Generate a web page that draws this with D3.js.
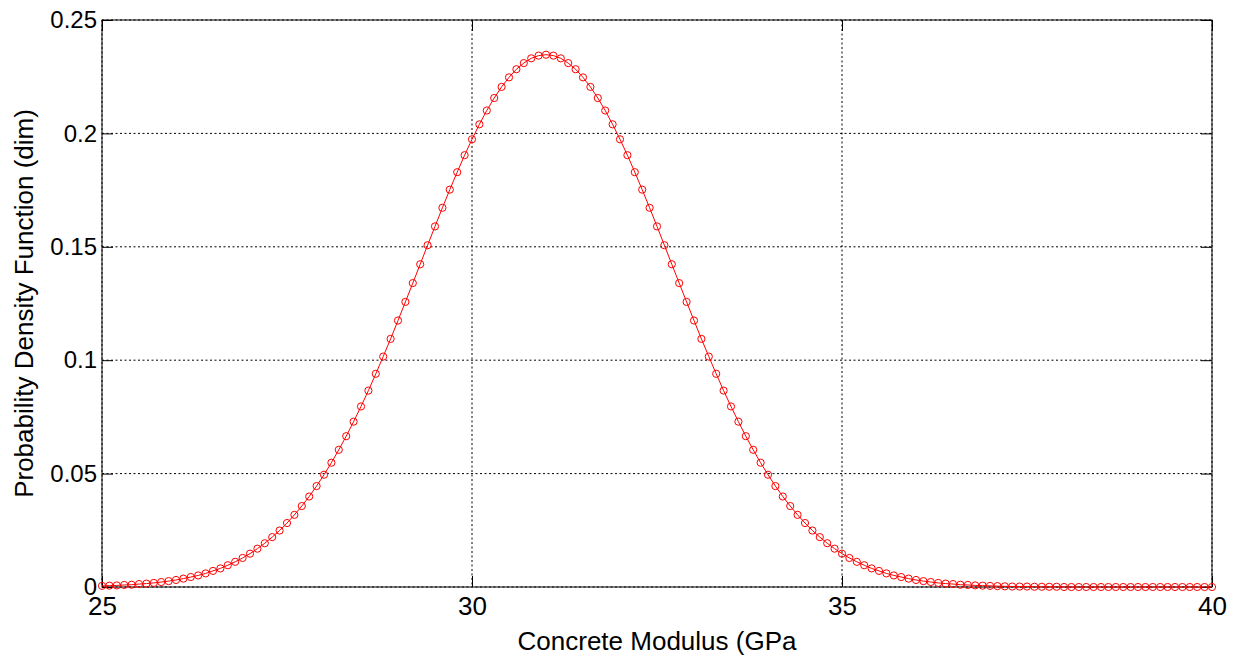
<!DOCTYPE html>
<html>
<head>
<meta charset="utf-8">
<script src="https://cdnjs.cloudflare.com/ajax/libs/d3/7.8.5/d3.min.js"></script>
<style>
  body { margin: 0; background: #fff; }
  svg { display: block; }
  .tick text { font-family: "Liberation Sans", Arial, Helvetica, sans-serif; fill: #000; }
  .label { font-family: "Liberation Sans", Arial, Helvetica, sans-serif; fill: #000; }
</style>
</head>
<body>
<div id="chart"></div>
<script>
// sample positions along the x axis (GPa)
var modulusGPa = [
  25.0, 25.1, 25.2, 25.3, 25.4, 25.5, 25.6, 25.7, 25.8, 25.9,
  26.0, 26.1, 26.2, 26.3, 26.4, 26.5, 26.6, 26.7, 26.8, 26.9,
  27.0, 27.1, 27.2, 27.3, 27.4, 27.5, 27.6, 27.7, 27.8, 27.9,
  28.0, 28.1, 28.2, 28.3, 28.4, 28.5, 28.6, 28.7, 28.8, 28.9,
  29.0, 29.1, 29.2, 29.3, 29.4, 29.5, 29.6, 29.7, 29.8, 29.9,
  30.0, 30.1, 30.2, 30.3, 30.4, 30.5, 30.6, 30.7, 30.8, 30.9,
  31.0, 31.1, 31.2, 31.3, 31.4, 31.5, 31.6, 31.7, 31.8, 31.9,
  32.0, 32.1, 32.2, 32.3, 32.4, 32.5, 32.6, 32.7, 32.8, 32.9,
  33.0, 33.1, 33.2, 33.3, 33.4, 33.5, 33.6, 33.7, 33.8, 33.9,
  34.0, 34.1, 34.2, 34.3, 34.4, 34.5, 34.6, 34.7, 34.8, 34.9,
  35.0, 35.1, 35.2, 35.3, 35.4, 35.5, 35.6, 35.7, 35.8, 35.9,
  36.0, 36.1, 36.2, 36.3, 36.4, 36.5, 36.6, 36.7, 36.8, 36.9,
  37.0, 37.1, 37.2, 37.3, 37.4, 37.5, 37.6, 37.7, 37.8, 37.9,
  38.0, 38.1, 38.2, 38.3, 38.4, 38.5, 38.6, 38.7, 38.8, 38.9,
  39.0, 39.1, 39.2, 39.3, 39.4, 39.5, 39.6, 39.7, 39.8, 39.9,
  40.0
];

// pdf value at each sample
var pdfValues = [
  0.0005, 0.0006, 0.0007, 0.0009, 0.0010, 0.0013, 0.0015, 0.0018, 0.0022, 0.0026,
  0.0031, 0.0037, 0.0044, 0.0051, 0.0060, 0.0071, 0.0082, 0.0096, 0.0111, 0.0128,
  0.0147, 0.0169, 0.0193, 0.0220, 0.0249, 0.0282, 0.0318, 0.0357, 0.0399, 0.0445,
  0.0495, 0.0548, 0.0605, 0.0665, 0.0729, 0.0796, 0.0866, 0.0940, 0.1016, 0.1094,
  0.1175, 0.1257, 0.1340, 0.1423, 0.1507, 0.1590, 0.1672, 0.1752, 0.1829, 0.1904,
  0.1974, 0.2040, 0.2101, 0.2156, 0.2205, 0.2247, 0.2283, 0.2310, 0.2331, 0.2343,
  0.2347, 0.2343, 0.2331, 0.2310, 0.2283, 0.2247, 0.2205, 0.2156, 0.2101, 0.2040,
  0.1974, 0.1904, 0.1829, 0.1752, 0.1672, 0.1590, 0.1507, 0.1423, 0.1340, 0.1257,
  0.1175, 0.1094, 0.1016, 0.0940, 0.0866, 0.0796, 0.0729, 0.0665, 0.0605, 0.0548,
  0.0495, 0.0445, 0.0399, 0.0357, 0.0318, 0.0282, 0.0249, 0.0220, 0.0193, 0.0169,
  0.0147, 0.0128, 0.0111, 0.0096, 0.0082, 0.0071, 0.0060, 0.0051, 0.0044, 0.0037,
  0.0031, 0.0026, 0.0022, 0.0018, 0.0015, 0.0013, 0.0010, 0.0009, 0.0007, 0.0006,
  0.0005, 0.0004, 0.0003, 0.0002, 0.0002, 0.0002, 0.0001, 0.0001, 0.0001, 0.0001,
  0, 0, 0, 0, 0, 0, 0, 0, 0, 0,
  0, 0, 0, 0, 0, 0, 0, 0, 0, 0,
  0
];

var xTicks = [25, 30, 35, 40];
var yTicks = [0, 0.05, 0.1, 0.15, 0.2, 0.25];
var yTickLabels = ["0", "0.05", "0.1", "0.15", "0.2", "0.25"];

var xLabel = "Concrete Modulus (GPa";
var yLabel = "Probability Density Function (dim)";

var width = 1236, height = 656;
var margin = {top: 20, right: 24, bottom: 69, left: 102};
var plotW = width - margin.left - margin.right;
var plotH = height - margin.top - margin.bottom;

var data = modulusGPa.map(function(d, i) { return {x: d, y: pdfValues[i]}; });

var svg = d3.select("#chart").append("svg")
    .attr("width", width)
    .attr("height", height);

svg.append("rect")
    .attr("width", width)
    .attr("height", height)
    .attr("fill", "#fff");

var g = svg.append("g")
    .attr("transform", "translate(" + margin.left + "," + margin.top + ")");

var x = d3.scaleLinear().domain([25, 40]).range([0, plotW]);
var y = d3.scaleLinear().domain([0, 0.25]).range([plotH, 0]);

// dotted grid
g.append("g").selectAll("line")
    .data(xTicks)
    .enter().append("line")
    .attr("x1", function(d) { return x(d); })
    .attr("x2", function(d) { return x(d); })
    .attr("y1", 0)
    .attr("y2", plotH)
    .attr("stroke", "#000")
    .attr("stroke-width", 1)
    .attr("stroke-dasharray", "2,2.5");

g.append("g").selectAll("line")
    .data(yTicks)
    .enter().append("line")
    .attr("x1", 0)
    .attr("x2", plotW)
    .attr("y1", function(d) { return y(d); })
    .attr("y2", function(d) { return y(d); })
    .attr("stroke", "#000")
    .attr("stroke-width", 1)
    .attr("stroke-dasharray", "2,2.5");

// axes with inward ticks
var xAxis = g.append("g")
    .attr("transform", "translate(0," + plotH + ")")
    .call(d3.axisBottom(x).tickValues(xTicks).tickSize(-11).tickPadding(10)
        .tickFormat(d3.format("d")));
xAxis.select(".domain").remove();
xAxis.selectAll(".tick text").style("font-size", "26px");

var yAxis = g.append("g")
    .call(d3.axisLeft(y).tickValues(yTicks).tickSize(-11).tickPadding(5)
        .tickFormat(function(d, i) { return yTickLabels[i]; }));
yAxis.select(".domain").remove();
yAxis.selectAll(".tick text").style("font-size", "24px");

// ticks on top and right edges as well
g.append("g")
    .call(d3.axisTop(x).tickValues(xTicks).tickSize(-11).tickFormat(""))
    .select(".domain").remove();
g.append("g")
    .attr("transform", "translate(" + plotW + ",0)")
    .call(d3.axisRight(y).tickValues(yTicks).tickSize(-11).tickFormat(""))
    .select(".domain").remove();

g.selectAll(".tick line").attr("stroke", "#000");

// box
g.append("rect")
    .attr("width", plotW)
    .attr("height", plotH)
    .attr("fill", "none")
    .attr("stroke", "#000")
    .attr("stroke-width", 1);

// curve and markers
var line = d3.line()
    .x(function(d) { return x(d.x); })
    .y(function(d) { return y(d.y); });

g.append("path")
    .datum(data)
    .attr("d", line)
    .attr("fill", "none")
    .attr("stroke", "#ff0000")
    .attr("stroke-width", 1);

g.append("g").selectAll("circle")
    .data(data)
    .enter().append("circle")
    .attr("cx", function(d) { return x(d.x); })
    .attr("cy", function(d) { return y(d.y); })
    .attr("r", 3.6)
    .attr("fill", "none")
    .attr("stroke", "#ff0000")
    .attr("stroke-width", 1);

// axis labels
svg.append("text")
    .attr("class", "label")
    .attr("x", margin.left + plotW / 2)
    .attr("y", 650)
    .attr("text-anchor", "middle")
    .style("font-size", "26px")
    .text(xLabel);

svg.append("text")
    .attr("class", "label")
    .attr("transform", "translate(33," + (margin.top + plotH / 2) + ") rotate(-90)")
    .attr("text-anchor", "middle")
    .style("font-size", "26px")
    .text(yLabel);
</script>
</body>
</html>
